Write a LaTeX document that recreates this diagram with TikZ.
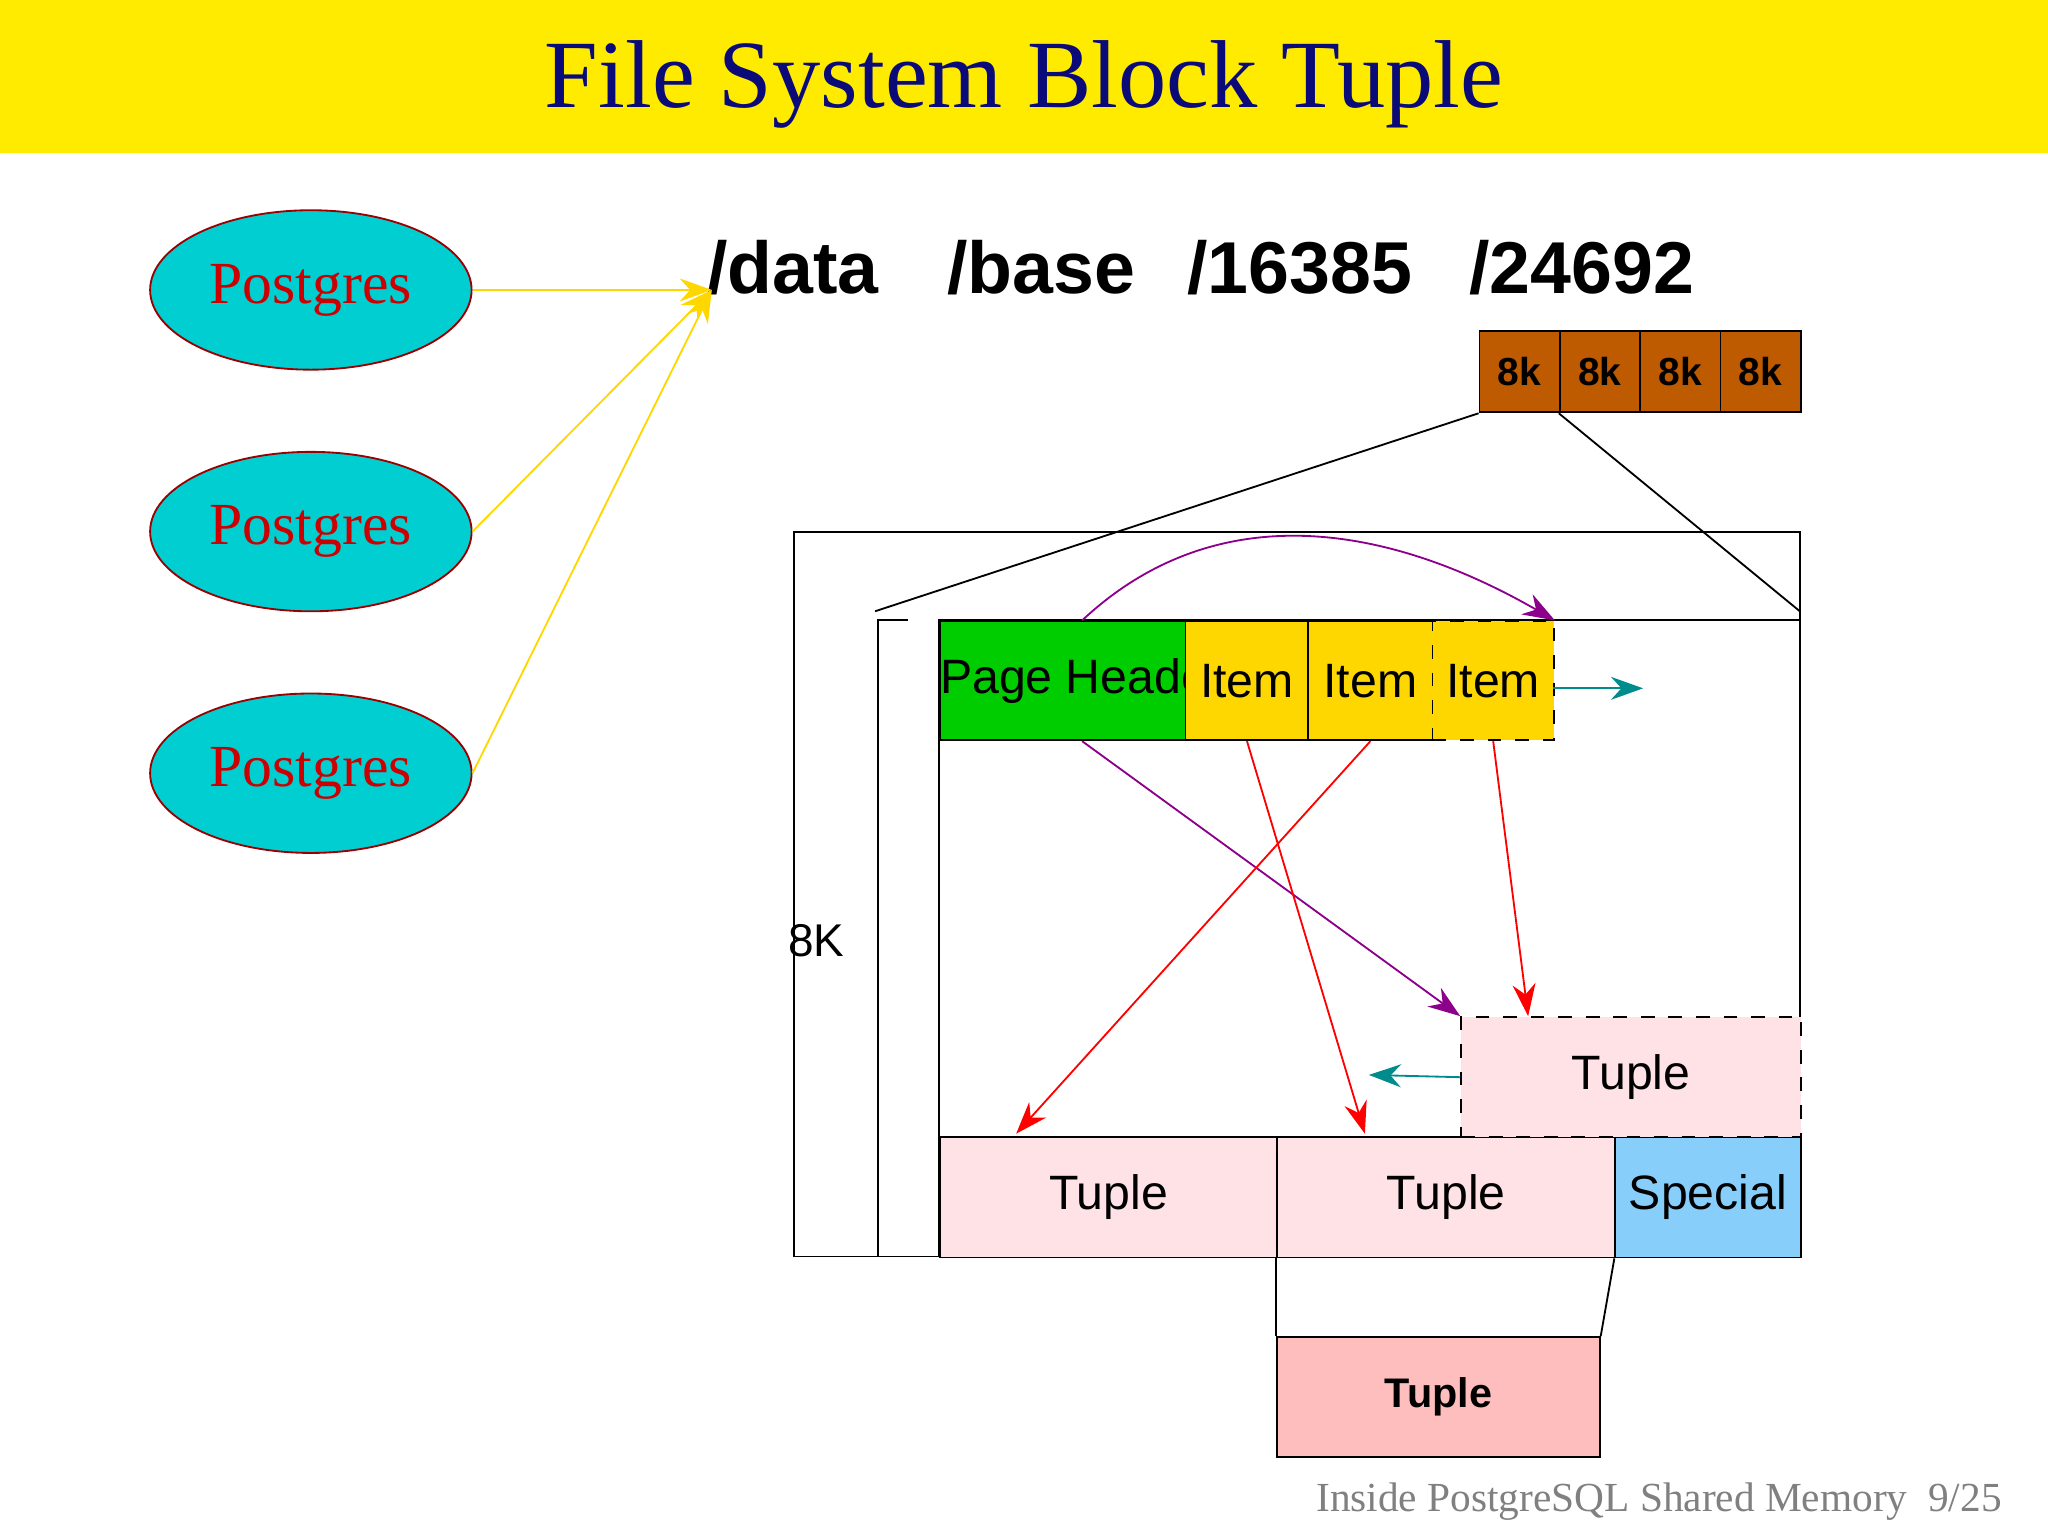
\documentclass[tikz,border=0pt]{standalone}
\usepackage{fontspec}
\setmainfont{Liberation Serif}
\newfontfamily\sansf{Liberation Sans}
\usetikzlibrary{arrows.meta, shapes.geometric}
\definecolor{banner}{RGB}{255,235,0}
\definecolor{navyt}{RGB}{10,10,120}
\definecolor{cyanp}{RGB}{0,206,209}
\definecolor{brownk}{RGB}{190,90,0}
\definecolor{greenh}{RGB}{0,205,0}
\definecolor{golditem}{RGB}{255,215,0}
\definecolor{pinkt}{RGB}{255,226,230}
\definecolor{pinkb}{RGB}{255,190,190}
\definecolor{bluesp}{RGB}{135,206,250}
\definecolor{tealar}{RGB}{0,140,140}
\definecolor{purplear}{RGB}{140,0,140}
\begin{document}
\begin{tikzpicture}[x = 0.01cm, y = -0.01cm,
  proc/.style = {ellipse, draw = red!60!black, fill = cyanp, minimum width = 2.46cm, minimum height = 1.22cm, inner sep = 0pt, text = red!80!black, font = \fontsize{13}{15}\selectfont},
  box/.style = {draw, inner sep = 0pt, anchor = north west, font = \sansf\fontsize{10.5}{12}\selectfont},
  dir/.style = {font = \sansf\bfseries\fontsize{16}{18}\selectfont},
  ptr/.style = {-{Stealth[length = 7pt, width = 5pt]}}]
\useasboundingbox (0, 0) rectangle (1568, 1176);
\fill [banner] (0, 0) rectangle (1568, 117);
\node [text = navyt, font = \fontsize{21}{25}\selectfont] (title) at (784, 65) {File System Block Tuple};
%\draw[very thin, color = gray](0, 0) grid (1568, 1176);
\node [proc] (pg1) at (238, 222) {Postgres};
\node [proc] (pg2) at (238, 407) {Postgres};
\node [proc] (pg3) at (238, 592) {Postgres};
\node [dir] (data) at (607, 205) {/data};
\node [dir] (base) at (797, 205) {/base};
\node [dir] (db) at (995, 205) {/16385};
\node [dir] (rel) at (1211, 205) {/24692};
\coordinate (tgt) at (545, 222);
\draw [ptr, golditem] (pg1.east) -- (tgt);
\draw [ptr, golditem] (pg2.east) -- (tgt);
\draw [ptr, golditem] (pg3.east) -- (tgt);
% blocks of the file
\foreach \i in {0, 1, 2, 3}
  \node [box, fill = brownk, minimum width = 0.615cm, minimum height = 0.62cm, font = \sansf\bfseries\fontsize{8.5}{10}\selectfont] (k\i) at (1132 + 61.5*\i, 253) {8k};
% the page
\draw (608, 407) rectangle (1378, 962);
\draw (719, 475) rectangle (1378, 962);
\draw (695, 475) -- (672, 475) -- (672, 962) -- (695, 962);
\coordinate (zl) at (670, 468);
\coordinate (zr) at (1378, 468);
\draw (k0.south west) -- (zl);
\draw (k1.south west) -- (zr);
\node at (625, 720) [font = \sansf\fontsize{10}{12}\selectfont] (size) {8K};
\node [box, fill = greenh, minimum width = 1.88cm, minimum height = 0.91cm] (hdr) at (719, 475) {Page Header};
\node [box, fill = golditem, minimum width = 0.94cm, minimum height = 0.91cm] (it1) at (907, 475) {Item};
\node [box, fill = golditem, minimum width = 0.95cm, minimum height = 0.91cm] (it2) at (1001, 475) {Item};
\node [box, fill = golditem, minimum width = 0.93cm, minimum height = 0.91cm, dashed] (it3) at (1096, 475) {Item};
\node [box, fill = pinkt, minimum width = 2.58cm, minimum height = 0.92cm] (tp1) at (719, 870) {Tuple};
\node [box, fill = pinkt, minimum width = 2.59cm, minimum height = 0.92cm] (tp2) at (977, 870) {Tuple};
\node [box, fill = bluesp, minimum width = 1.42cm, minimum height = 0.92cm] (sp) at (1236, 870) {Special};
\node [box, fill = pinkt, minimum width = 2.6cm, minimum height = 0.92cm, dashed] (tp3) at (1118, 778) {Tuple};
\node [box, fill = pinkb, minimum width = 2.47cm, minimum height = 0.92cm, font = \sansf\bfseries\fontsize{9}{11}\selectfont] (tup) at (977, 1023) {Tuple};
\draw (tp2.south west) -- (tup.north west);
\draw (sp.south west) -- (tup.north east);
% pointers
\draw [ptr, purplear] (hdr.north) .. controls (930, 380) and (1060, 400) .. (it3.north east);
\draw [ptr, purplear] (hdr.south) -- (tp3.north west);
\draw [ptr, red] (it1.south) -- (1045, 868);
\draw [ptr, red] (it2.south) -- (778, 868);
\draw [ptr, red] (it3.south) -- (1170, 778);
\coordinate (fr) at (1258, 527);
\coordinate (fl) at (1048, 823);
\draw [ptr, tealar] (1189, 527) -- (fr);
\draw [ptr, tealar] (tp3.west) -- (fl);
\node [text = gray, anchor = east, font = \fontsize{9}{11}\selectfont] (foot) at (1545, 1150) {Inside PostgreSQL Shared Memory\enspace 9/25};
\end{tikzpicture}
\end{document}
